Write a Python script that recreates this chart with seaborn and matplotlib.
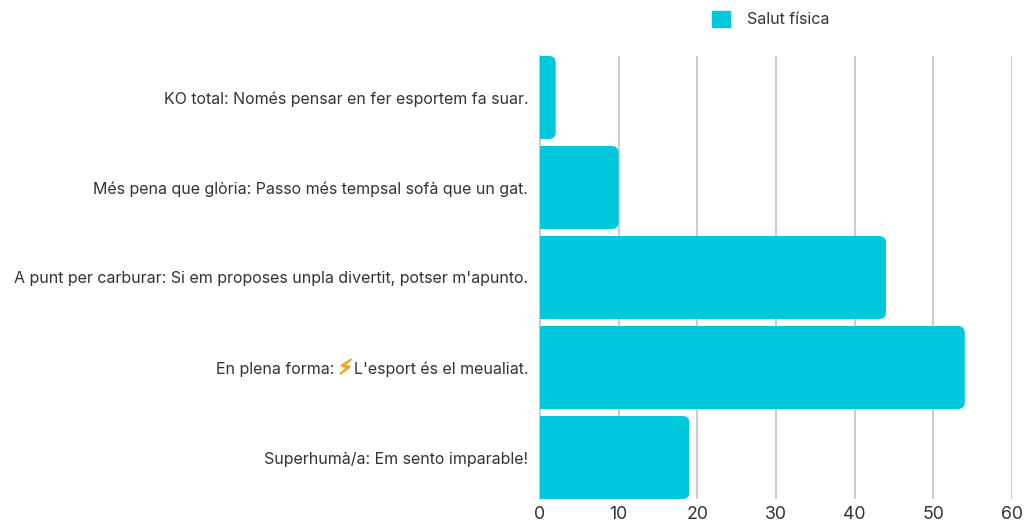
import matplotlib
matplotlib.use('Agg')
import matplotlib.pyplot as plt
import matplotlib.patheffects as pe
import pandas as pd
import seaborn as sns
from matplotlib.patches import FancyBboxPatch
from matplotlib.transforms import IdentityTransform

# Dades
categories = [
    "KO total: Només pensar en fer esportem fa suar.",
    "Més pena que glòria: Passo més tempsal sofà que un gat.",
    "A punt per carburar: Si em proposes unpla divertit, potser m'apunto.",
    "L'esport és el meualiat.",
    "Superhumà/a: Em sento imparable!",
]
prefix_llamp = "En plena forma:"
llamp = "⚡"
valors = [2, 10, 44, 54, 19]
serie = "Salut física"
xticks = [0, 10, 20, 30, 40, 50, 60]

COLOR = '#00c8dc'
TEXT = '#333333'
W, H = 1027, 524
FS = 11.5

sns.set_theme(style='white')
plt.rcParams['font.family'] = ['Inter', 'DejaVu Sans']

df = pd.DataFrame({'categoria': categories, 'valor': valors, 'serie': serie})

fig = plt.figure(figsize=(W / 100, H / 100), dpi=100)
ax = fig.add_axes([540 / W, 1 - 499 / H, (1012 - 540) / W, (499 - 56) / H])

sns.barplot(data=df, y='categoria', x='valor', color=COLOR, saturation=1,
            width=0.922, ax=ax, zorder=3, label=serie, legend=False, linewidth=0)

ax.set_xlim(0, 60)
ax.set_ylim(4.461, -0.461)
ax.set_xticks(xticks)
ax.set_xlabel('')
ax.set_ylabel('')
ax.grid(axis='x', color='#cccccc', linewidth=1.4, zorder=0)
ax.set_axisbelow(True)
sns.despine(ax=ax, top=True, right=True, bottom=True, left=False)
ax.spines['left'].set_color('#cccccc')
ax.spines['left'].set_linewidth(1.4)
ax.spines['left'].set_zorder(1)
ax.tick_params(axis='x', length=0, pad=5, labelsize=12.8, labelcolor=TEXT)
ax.tick_params(axis='y', length=0, pad=8.5, labelsize=FS, labelcolor=TEXT)
ax.patch.set_alpha(0)

# Cantonades arrodonides a la dreta de cada barra
fig.canvas.draw()
for bar in ax.patches:
    box = bar.get_window_extent()
    clip = FancyBboxPatch((box.x0 - 20, box.y0), box.width + 20, box.height,
                          boxstyle='round,pad=0,rounding_size=7',
                          transform=IdentityTransform())
    bar.set_clip_path(clip)

# El llamp en color i el text que va davant
renderer = fig.canvas.get_renderer()
lab = ax.get_yticklabels()[3]
ext = lab.get_window_extent(renderer)
ymig = (ext.y0 + ext.y1) / 2 / H
t_llamp = fig.text((ext.x0 - 1) / W, ymig, llamp, color='#f7a823', fontsize=FS + 3,
                   ha='right', va='center',
                   path_effects=[pe.withStroke(linewidth=1.2, foreground='#f7a823')])
ext2 = t_llamp.get_window_extent(renderer)
fig.text((ext2.x0 - 4) / W, ymig, prefix_llamp, color=TEXT, fontsize=FS,
         ha='right', va='center')

# Llegenda
fig.legend(handles=[plt.Rectangle((0, 0), 1, 1, color=COLOR)], labels=[serie],
           loc='center left', bbox_to_anchor=(701 / W, 1 - 19 / H), frameon=False,
           fontsize=FS, labelcolor=TEXT, handlelength=1.13, handleheight=1.13,
           handletextpad=1.06, borderpad=0.2)

fig.savefig('out.png', dpi=100, facecolor='white')
